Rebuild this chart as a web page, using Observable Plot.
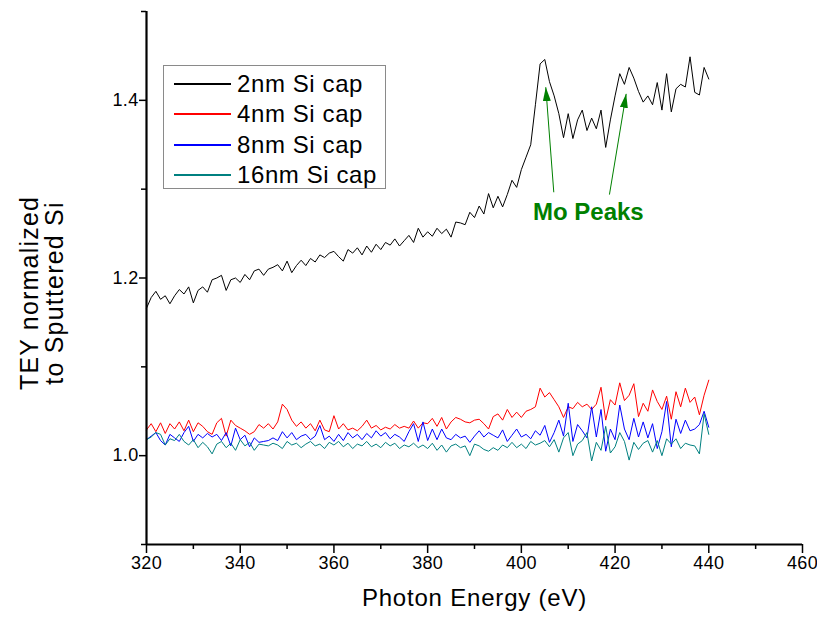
<!DOCTYPE html>
<html>
<head>
<meta charset="utf-8">
<script src="https://cdn.jsdelivr.net/npm/d3@7"></script>
<script src="https://cdn.jsdelivr.net/npm/@observablehq/plot@0.6"></script>
<style>
  html, body { margin: 0; padding: 0; background: #fff; }
  #wrap { position: relative; width: 817px; height: 620px; font-family: "Liberation Sans", Arial, sans-serif; }
  #legend { position: absolute; left: 163px; top: 65px; width: 221px; height: 122px; border: 1.5px solid #8a8a8a; background: #fff; }
  .row { position: absolute; left: 0; height: 30px; display: flex; align-items: center; }
  .row .sw { width: 57px; height: 1.3px; margin-left: 10px; margin-right: 6px; }
  .row .tx { font-size: 24px; letter-spacing: 0.6px; color: #000; white-space: nowrap; line-height: 30px; }
</style>
</head>
<body>
<div id="wrap"><div id="legend"></div></div>
<script>
// ---- data (Photon energy grid 320..440 eV, 1 eV step) ----
const energyStart = 320;
const energyStep = 1;

const cap2nm = [
  1.166,1.178,1.185,1.176,1.180,1.171,1.180,1.187,1.182,1.190,
  1.172,1.186,1.190,1.184,1.198,1.200,1.203,1.186,1.198,1.200,
  1.195,1.204,1.198,1.208,1.210,1.203,1.210,1.212,1.215,1.208,
  1.219,1.206,1.214,1.220,1.214,1.222,1.218,1.226,1.223,1.228,
  1.230,1.224,1.219,1.232,1.228,1.234,1.226,1.236,1.229,1.238,
  1.232,1.240,1.237,1.244,1.236,1.242,1.248,1.240,1.256,1.246,
  1.252,1.247,1.256,1.250,1.255,1.246,1.263,1.262,1.260,1.274,
  1.268,1.281,1.272,1.295,1.279,1.292,1.280,1.294,1.310,1.302,
  1.322,1.336,1.350,1.395,1.441,1.446,1.421,1.405,1.385,1.358,
  1.385,1.357,1.378,1.389,1.366,1.380,1.368,1.389,1.347,1.378,
  1.405,1.430,1.418,1.437,1.425,1.410,1.398,1.405,1.395,1.420,
  1.389,1.430,1.387,1.413,1.418,1.415,1.449,1.409,1.406,1.437,
  1.424
];
const cap4nm = [
  1.029,1.036,1.027,1.037,1.025,1.036,1.030,1.038,1.028,1.040,
  1.027,1.037,1.033,1.027,1.024,1.037,1.042,1.022,1.040,1.034,
  1.031,1.028,1.024,1.027,1.035,1.031,1.036,1.030,1.038,1.058,
  1.052,1.040,1.033,1.038,1.031,1.036,1.028,1.040,1.029,1.027,
  1.045,1.030,1.036,1.029,1.031,1.028,1.033,1.040,1.031,1.034,
  1.029,1.032,1.030,1.035,1.031,1.033,1.031,1.039,1.031,1.037,
  1.036,1.042,1.033,1.043,1.030,1.038,1.043,1.041,1.038,1.037,
  1.040,1.041,1.036,1.030,1.044,1.047,1.040,1.052,1.043,1.049,
  1.043,1.050,1.052,1.055,1.076,1.066,1.071,1.063,1.055,1.043,
  1.055,1.053,1.060,1.055,1.058,1.052,1.058,1.077,1.040,1.063,
  1.057,1.082,1.062,1.068,1.081,1.044,1.059,1.050,1.074,1.061,
  1.052,1.067,1.041,1.072,1.055,1.076,1.060,1.066,1.046,1.068,
  1.085
];
const cap8nm = [
  1.018,1.022,1.026,1.017,1.012,1.024,1.020,1.016,1.026,1.033,
  1.016,1.024,1.020,1.025,1.021,1.024,1.017,1.026,1.011,1.031,
  1.018,1.023,1.010,1.020,1.015,1.016,1.017,1.020,1.017,1.027,
  1.020,1.026,1.018,1.022,1.024,1.018,1.022,1.034,1.018,1.022,
  1.016,1.024,1.017,1.026,1.020,1.024,1.018,1.025,1.020,1.028,
  1.022,1.026,1.019,1.024,1.021,1.016,1.027,1.036,1.016,1.038,
  1.017,1.030,1.018,1.030,1.020,1.018,1.024,1.020,1.022,1.015,
  1.022,1.028,1.021,1.026,1.023,1.020,1.029,1.016,1.023,1.030,
  1.021,1.024,1.019,1.028,1.023,1.034,1.015,1.026,1.040,1.022,
  1.059,1.016,1.035,1.028,1.020,1.055,1.021,1.052,1.005,1.030,
  1.018,1.057,1.030,1.018,1.042,1.021,1.038,1.020,1.036,1.008,
  1.027,1.061,1.010,1.041,1.025,1.040,1.028,1.030,1.035,1.050,
  1.032
];
const cap16nm = [
  1.018,1.021,1.026,1.024,1.012,1.019,1.017,1.024,1.016,1.012,
  1.018,1.009,1.015,1.010,1.002,1.013,1.016,1.009,1.014,1.006,
  1.018,1.011,1.015,1.006,1.013,1.012,1.011,1.014,1.012,1.008,
  1.016,1.012,1.014,1.009,1.013,1.016,1.011,1.013,1.008,1.015,
  1.012,1.016,1.010,1.014,1.008,1.013,1.011,1.016,1.010,1.013,
  1.009,1.015,1.011,1.014,1.008,1.012,1.010,1.014,1.009,1.012,
  1.008,1.014,1.006,1.012,1.004,1.011,1.013,1.009,1.011,1.000,
  1.013,1.011,1.007,1.005,1.009,1.006,1.012,1.009,1.015,1.009,
  1.013,1.008,1.016,1.012,1.014,1.017,1.010,1.018,1.004,1.020,
  1.026,1.000,1.013,1.017,1.026,0.994,1.015,1.006,1.033,1.003,
  1.010,1.026,1.016,0.995,1.015,1.007,1.014,1.017,1.004,1.017,
  1.000,1.019,1.013,1.019,1.008,1.014,1.012,1.011,1.002,1.047,
  1.024
];

const seriesNames = ["2nm Si cap", "4nm Si cap", "8nm Si cap", "16nm Si cap"];
const seriesColors = ["#000000", "#ff0000", "#0000ff", "#008080"];
const seriesValues = [cap2nm, cap4nm, cap8nm, cap16nm];

const xMajorTicks = [320, 340, 360, 380, 400, 420, 440, 460];
const xMinorTicks = [330, 350, 370, 390, 410, 430, 450];
const yMajorTicks = [1.0, 1.2, 1.4];
const yMinorTicks = [0.9, 1.1, 1.3, 1.5];

// annotation: "Mo Peaks" with two arrows
const annotationText = ["Mo Peaks"];
const annotationX = [414.3];
const annotationY = [1.2736];
const arrowTailX = [406.92, 418.80];
const arrowTailY = [1.2965, 1.2939];
const arrowTipX = [405.21, 422.37];
const arrowTipY = [1.4148, 1.4073];

// ---- build tables ----
const rows = [];
seriesValues.forEach((vals, s) => {
  vals.forEach((v, i) => rows.push({energy: energyStart + i * energyStep, value: v, series: seriesNames[s]}));
});
const arrows = arrowTailX.map((_, i) => ({x1: arrowTailX[i], y1: arrowTailY[i], x2: arrowTipX[i], y2: arrowTipY[i]}));
const annotations = annotationText.map((t, i) => ({text: t, x: annotationX[i], y: annotationY[i]}));

const green = "#008000";
const xLabel = "Photon Energy (eV)";
const yLabel = "TEY normalized\nto Sputtered Si";

const chart = Plot.plot({
  width: 817,
  height: 620,
  marginLeft: 146,
  marginRight: 15,
  marginTop: 11,
  marginBottom: 76,
  style: {fontFamily: "'Liberation Sans', Arial, sans-serif", fontSize: "17px", background: "#fff", color: "#000", overflow: "visible"},
  x: {domain: [320, 460]},
  y: {domain: [0.9, 1.5]},
  marks: [
    Plot.axisX({ticks: xMajorTicks, tickSize: 9, tickPadding: 3, fontSize: 17, strokeWidth: 1.5, tickFormat: d => String(d), label: null}),
    Plot.axisX({ticks: xMinorTicks, tickSize: 5, strokeWidth: 1.5, tickFormat: () => "", label: null}),
    Plot.axisY({ticks: yMajorTicks, tickSize: 7, tickPadding: 1, fontSize: 17, strokeWidth: 1.5, tickFormat: d3.format(".1f"), label: null}),
    Plot.axisY({ticks: yMinorTicks, tickSize: 5, strokeWidth: 1.5, tickFormat: () => "", label: null}),
    ...seriesNames.map((name, s) =>
      Plot.lineY(rows.filter(r => r.series === name), {x: "energy", y: "value", stroke: seriesColors[s], strokeWidth: 1})
    ),
    Plot.ruleX([320], {strokeWidth: 2.2, stroke: "#000"}),
    Plot.ruleY([0.9], {strokeWidth: 2.2, stroke: "#000"}),
    Plot.link(arrows, {x1: "x1", y1: "y1", x2: "x2", y2: "y2", stroke: green, strokeWidth: 1}),
    Plot.text(annotations, {x: "x", y: "y", text: "text", fill: green, fontSize: 24, fontWeight: "bold"}),
    Plot.text([xLabel], {frameAnchor: "bottom", textAnchor: "middle", dy: 61, fontSize: 24, fill: "#000"}),
    Plot.text([yLabel], {frameAnchor: "left", textAnchor: "middle", lineAnchor: "middle", rotate: -90, dx: -104, dy: 15, fontSize: 25, lineHeight: 1.0, fill: "#000"})
  ]
});

// filled arrowheads for annotation links
const ns = "http://www.w3.org/2000/svg";
const defs = document.createElementNS(ns, "defs");
defs.innerHTML = `<marker id="moHead" viewBox="0 0 14 8" refX="14" refY="4" markerWidth="14" markerHeight="8" markerUnits="userSpaceOnUse" orient="auto"><path d="M0,0L14,4L0,8Z" fill="${green}"/></marker>`;
chart.insertBefore(defs, chart.firstChild);
chart.querySelectorAll('g[aria-label="link"] path, g[aria-label="link"] line').forEach(p => p.setAttribute("marker-end", "url(#moHead)"));

// tick label size and wider letter spacing on texts, to match the reference
const tickText = new Set([...xMajorTicks.map(String), ...yMajorTicks.map(d3.format(".1f"))]);
chart.querySelectorAll("text").forEach(t => {
  const s = t.textContent;
  if (tickText.has(s)) {
    t.setAttribute("font-size", "18");
    t.style.fontSize = "18px";
    t.style.letterSpacing = "0.3px";
  }
  if (s === xLabel) t.style.letterSpacing = "0.8px";
  if (s.startsWith("TEY") || s.includes("normalized")) t.style.letterSpacing = "1.2px";
});

const wrap = document.getElementById("wrap");
wrap.insertBefore(chart, wrap.firstChild);

// legend
const legend = document.getElementById("legend");
const rowTops = [3, 33, 64, 94];
seriesNames.forEach((name, i) => {
  const r = document.createElement("div");
  r.className = "row";
  r.style.top = rowTops[i] + "px";
  r.innerHTML = `<div class="sw" style="background:${seriesColors[i]}"></div><div class="tx">${name}</div>`;
  legend.appendChild(r);
});
</script>
</body>
</html>
